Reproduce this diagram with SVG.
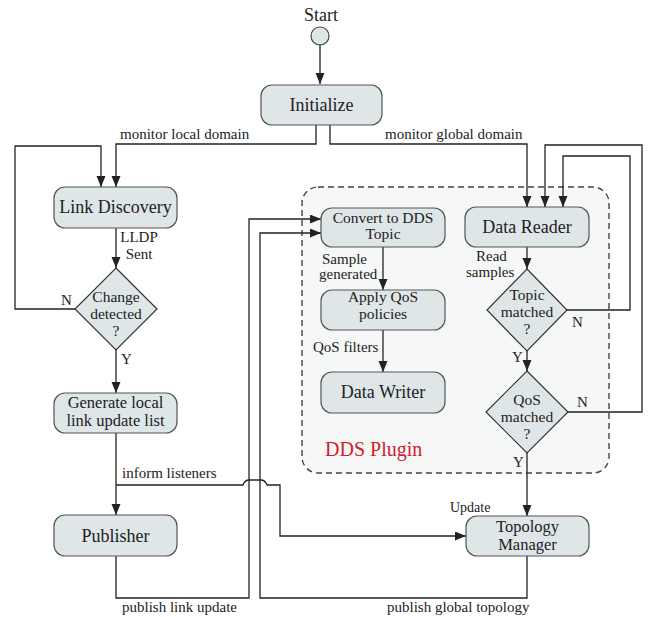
<svg xmlns="http://www.w3.org/2000/svg" width="648" height="617" viewBox="0 0 648 617" font-family="'Liberation Serif', 'DejaVu Serif', serif">
  <style>
    text { font-family: "Liberation Serif", "DejaVu Serif", "Times New Roman", serif; fill: #222; }
    .box { fill: #dfe6e8; stroke: #555; stroke-width: 1.2; }
    .dia { fill: #dfe6e8; stroke: #333; stroke-width: 1.2; }
    .big { font-size: 18px; text-anchor: middle; }
    .mid { font-size: 16.5px; text-anchor: middle; }
    .sm { font-size: 15.5px; text-anchor: middle; }
    .lbl { font-size: 15px; }
    .wire { fill: none; stroke: #222; stroke-width: 1.3; }
    .arr { marker-end: url(#head); }
  </style>
  <defs>
    <marker id="head" markerUnits="userSpaceOnUse" markerWidth="12" markerHeight="10" refX="11" refY="4.5" orient="auto">
      <path d="M0,0 L11,4.5 L0,9 z" fill="#222"/>
    </marker>
  </defs>

  <!-- plugin container -->
  <g id="dds-plugin">
    <rect x="302" y="187" width="307" height="286" rx="16" fill="#f6f8f7" stroke="#444" stroke-width="1.4" stroke-dasharray="6,4"/>
    <text x="325" y="456" font-size="20" style="fill:#d0202a">DDS Plugin</text>
  </g>

  <!-- connectors -->
  <g id="connectors">
    <path class="wire arr" d="M320,45 V84"/>
    <path class="wire arr" d="M316,125 V144 H116 V187"/>
    <path class="wire arr" d="M330,125 V144 H527 V207"/>
    <path class="wire arr" d="M75,309 H15 V146 H101 V187"/>
    <path class="wire arr" d="M116,228 V268"/>
    <path class="wire arr" d="M116,350 V393"/>
    <path class="wire arr" d="M116,433 V515"/>
    <path class="wire arr" d="M116,485 H243 Q245,480 249,480 H261 Q265,480 267,485 H280 V536 H466"/>
    <path class="wire arr" d="M116,556 V598 H249 V219 H321"/>
    <path class="wire arr" d="M527,556 V598 H260 V233 H321"/>
    <path class="wire arr" d="M383,247 V290"/>
    <path class="wire arr" d="M383,330 V372"/>
    <path class="wire arr" d="M527,247 V269"/>
    <path class="wire arr" d="M527,351 V371"/>
    <path class="wire arr" d="M527,453 V516"/>
    <path class="wire arr" d="M567,310 H630 V156 H563 V207"/>
    <path class="wire arr" d="M568,412 H642 V145 H545 V207"/>
  </g>

  <!-- connector labels -->
  <g id="labels">
    <text class="lbl" x="120" y="139">monitor local domain</text>
    <text class="lbl" x="385" y="139">monitor global domain</text>
    <text class="lbl" x="139" y="242" text-anchor="middle">LLDP</text>
    <text class="lbl" x="139" y="259" text-anchor="middle">Sent</text>
    <text class="lbl" x="61" y="305">N</text>
    <text class="lbl" x="121" y="364">Y</text>
    <text class="lbl" x="122" y="478">inform listeners</text>
    <text class="lbl" x="122" y="612">publish link update</text>
    <text class="lbl" x="387" y="612">publish global topology</text>
    <text class="lbl" x="322" y="264">Sample</text>
    <text class="lbl" x="319" y="279">generated</text>
    <text class="lbl" x="313" y="352">QoS filters</text>
    <text class="lbl" x="476" y="261">Read</text>
    <text class="lbl" x="466" y="277">samples</text>
    <text class="lbl" x="572" y="327">N</text>
    <text class="lbl" x="512" y="362">Y</text>
    <text class="lbl" x="577" y="407">N</text>
    <text class="lbl" x="513" y="467">Y</text>
    <text x="450" y="512" font-size="14">Update</text>
  </g>

  <g id="start">
    <text x="321" y="21" class="big">Start</text>
    <circle cx="320" cy="36" r="9" fill="#dfe6e8" stroke="#444" stroke-width="1.2"/>
  </g>

  <g id="initialize">
    <rect class="box" x="261" y="85" width="121" height="40" rx="11"/>
    <text class="big" x="321.5" y="111">Initialize</text>
  </g>

  <g id="link-discovery">
    <rect class="box" x="54" y="187" width="123" height="41" rx="11"/>
    <text class="big" x="115.5" y="213">Link Discovery</text>
  </g>

  <g id="change-detected">
    <polygon class="dia" points="116,268 157,309 116,350 75,309"/>
    <text class="sm" x="116" y="302">Change</text>
    <text class="sm" x="116" y="319">detected</text>
    <text class="sm" x="116" y="336">?</text>
  </g>

  <g id="generate-list">
    <rect class="box" x="54" y="393" width="123" height="40" rx="11"/>
    <text class="mid" x="115.5" y="408">Generate local</text>
    <text class="mid" x="115.5" y="426">link update list</text>
  </g>

  <g id="publisher">
    <rect class="box" x="54" y="515" width="123" height="41" rx="11"/>
    <text class="big" x="115.5" y="542">Publisher</text>
  </g>

  <g id="convert-topic">
    <rect class="box" x="321" y="208" width="124" height="39" rx="11"/>
    <text class="sm" x="383" y="223">Convert to DDS</text>
    <text class="sm" x="383" y="239">Topic</text>
  </g>

  <g id="apply-qos">
    <rect class="box" x="321" y="290" width="124" height="40" rx="11"/>
    <text class="sm" x="383" y="302">Apply QoS</text>
    <text class="sm" x="383" y="319">policies</text>
  </g>

  <g id="data-writer">
    <rect class="box" x="321" y="372" width="124" height="41" rx="11"/>
    <text class="big" x="383" y="398">Data Writer</text>
  </g>

  <g id="data-reader">
    <rect class="box" x="465" y="207" width="124" height="40" rx="11"/>
    <text class="big" x="527" y="233">Data Reader</text>
  </g>

  <g id="topic-matched">
    <polygon class="dia" points="527,269 567,310 527,351 487,310"/>
    <text class="sm" x="527" y="300">Topic</text>
    <text class="sm" x="527" y="317">matched</text>
    <text class="sm" x="527" y="334">?</text>
  </g>

  <g id="qos-matched">
    <polygon class="dia" points="527,371 568,412 527,453 486,412"/>
    <text class="sm" x="527" y="405">QoS</text>
    <text class="sm" x="527" y="422">matched</text>
    <text class="sm" x="527" y="439">?</text>
  </g>

  <g id="topology-manager">
    <rect class="box" x="466" y="516" width="123" height="40" rx="11"/>
    <text class="mid" x="527.5" y="532">Topology</text>
    <text class="mid" x="527.5" y="550">Manager</text>
  </g>
</svg>
